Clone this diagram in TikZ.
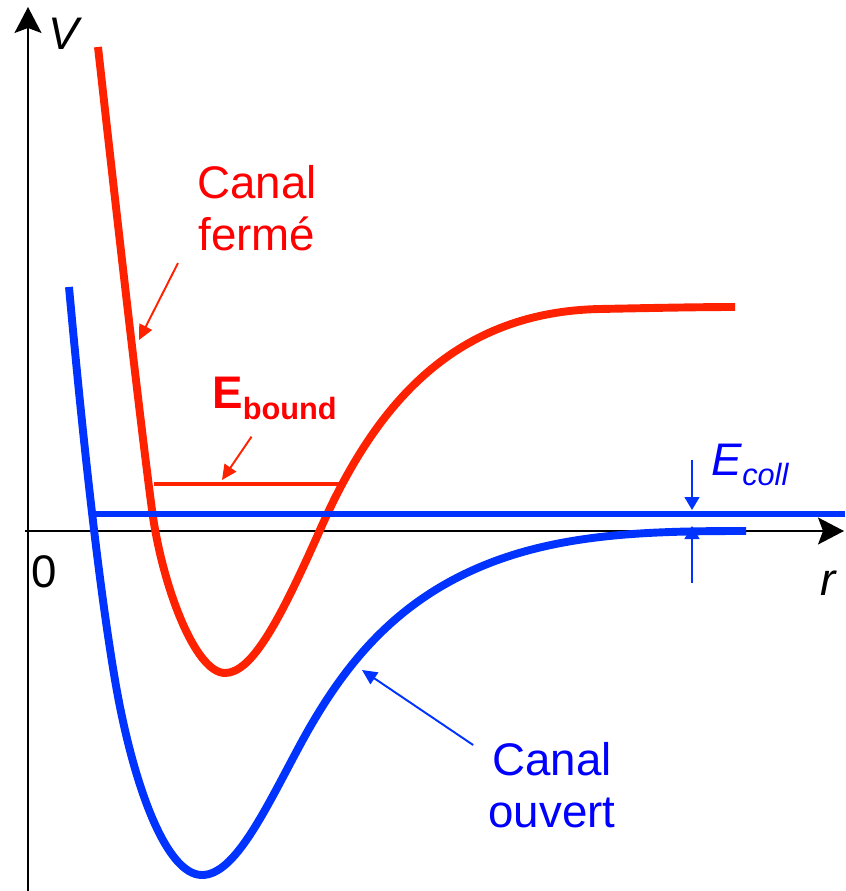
\documentclass[tikz,border=0pt]{standalone}
\usepackage{fontspec}
\setmainfont{Liberation Sans}
\usepackage{tikz}
\usetikzlibrary{arrows.meta, positioning}

\definecolor{rouge}{RGB}{255,34,0}
\definecolor{bleu}{RGB}{0,51,255}
\definecolor{rougetxt}{RGB}{255,0,0}
\definecolor{bleutxt}{RGB}{0,0,255}

\tikzset{
  courbe/.style={line width=4.5pt, line join=round},
  fleche/.style={-{Triangle[length=0.3cm, width=0.28cm]}, line width=1.1pt},
  flechefine/.style={-{Triangle[length=0.26cm, width=0.3cm]}, line width=0.75pt},
  etiquette/.style={inner sep=0pt, font=\fontsize{26}{29.5}\selectfont},
}

\begin{document}
\begin{tikzpicture}[x=0.02cm, y=-0.02cm]
  \useasboundingbox (0,0) rectangle (845,891);
  % Axes
  \coordinate (ybas) at (28,891);
  \coordinate (yhaut) at (28,7);
  \coordinate (xgauche) at (25,531);
  \coordinate (xdroite) at (844,531);
  \draw[-{Stealth[length=0.52cm, width=0.54cm, inset=0.1cm]}, line width=0.85pt] (ybas) -- (yhaut);
  \draw[-{Stealth[length=0.52cm, width=0.54cm, inset=0.1cm]}, line width=0.85pt] (xgauche) -- (xdroite);
  \node[etiquette, anchor=base west] (V) at (48,50) {\textit{V}};
  \node[etiquette, anchor=base west] (zero) at (31,587) {0};
  \node[etiquette, anchor=base west] (r) at (820,595) {\textit{r}};

  % Canal ouvert
  \draw[courbe, bleu] (69,287) .. controls (82,430) and (98,580) .. (115,680)
    .. controls (132,780) and (165,875) .. (202,875)
    .. controls (235,875) and (265,810) .. (300,745)
    .. controls (340,671) and (390,605) .. (480,567)
    .. controls (560,533) and (650,531) .. (746,531);
  % Canal ferme
  \draw[courbe, rouge] (98,47) .. controls (115,200) and (140,420) .. (152,510)
    .. controls (162,585) and (195,673) .. (225,673)
    .. controls (252,673) and (280,620) .. (320,530)
    .. controls (373,410) and (450,312) .. (600,309)
    .. controls (650,308) and (700,307) .. (735,307);

  % Niveaux d'energie
  \coordinate (lie-g) at (154,484);
  \coordinate (lie-d) at (340,484);
  \draw[rouge, line width=2.8pt] (lie-g) -- (lie-d);
  \coordinate (coll-g) at (90,514);
  \coordinate (coll-d) at (845,514);
  \draw[bleu, line width=3.4pt] (coll-g) -- (coll-d);

  % Energie de collision
  \node[etiquette, bleutxt, anchor=base west] (ecoll) at (711,475)
    {\textit{E}\raisebox{-0.2cm}{\fontsize{17.5}{18}\selectfont\textit{coll}}};
  \coordinate (haut1) at (692,460);
  \coordinate (haut2) at (692,510);
  \coordinate (bas1) at (692,583);
  \coordinate (bas2) at (692,526);
  \draw[flechefine, bleu] (haut1) -- (haut2);
  \draw[flechefine, bleu] (bas1) -- (bas2);

  % Etiquettes
  \node[etiquette, rougetxt, align=center, anchor=north] (ferme) at (257,165) {Canal\\fermé};
  \node[etiquette, rougetxt, anchor=base west] (bound) at (212,408)
    {\textbf{E\raisebox{-0.24cm}{\fontsize{17.5}{18}\selectfont bound}}};
  \node[etiquette, bleutxt, align=center, anchor=north] (ouvert) at (552,742) {Canal\\ouvert};

  \coordinate (pferme) at (139,340);
  \coordinate (pbound) at (222,480);
  \coordinate (pouvert) at (362,670);
  \draw[fleche, rouge] ([shift={(-19,12)}]ferme.south west) -- (pferme);
  \draw[fleche, rouge] ([shift={(-23,16)}]bound.south) -- (pbound);
  \draw[fleche, bleu] ([shift={(-15,3)}]ouvert.north west) -- (pouvert);
\end{tikzpicture}
\end{document}
